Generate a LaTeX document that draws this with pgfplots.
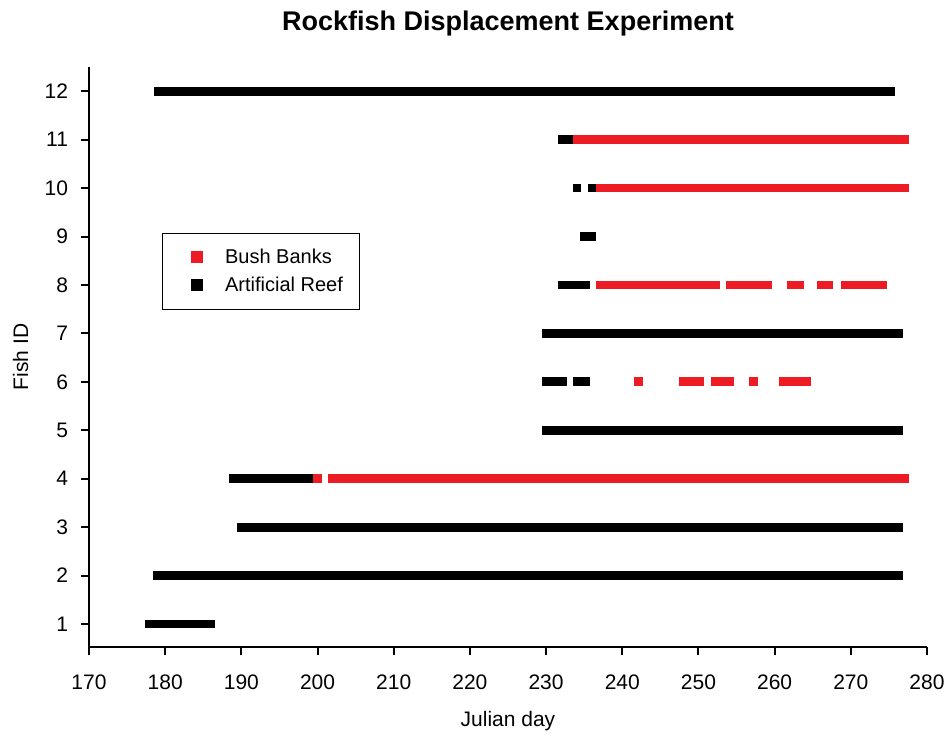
\documentclass[border=0pt]{standalone}
\usepackage{pgfplots}
\pgfplotsset{compat=1.18}
\usepackage{fontspec}
\setmainfont{Liberation Sans}
\definecolor{bbred}{RGB}{237,28,36}
\begin{document}
\begin{tikzpicture}
\begin{axis}[
    scale only axis,
    width=419pt, height=290pt,
    xmin=170, xmax=280, ymin=0.525, ymax=12.5,
    xtick={170,180,...,280}, ytick={1,...,12},
    axis lines=left, axis line style={line width=1pt, -},
    tick style={line width=1pt, black},
    tick align=outside, major tick length=4pt,
    /pgf/number format/assume math mode=true,
    /pgf/number format/set thousands separator={},
    tick label style={font=\fontsize{10.5}{12}\selectfont, inner xsep=0pt},
    xticklabel style={yshift=-6.5pt},
    yticklabel style={xshift=-6.3pt},
    xlabel={Julian day}, ylabel={Fish ID},
    label style={font=\fontsize{10.5}{12}\selectfont},
    xlabel style={yshift=-4pt},
    ylabel style={yshift=7pt, inner sep=1pt},
    title={\bfseries Rockfish Displacement Experiment},
    title style={font=\fontsize{13.5}{15}\selectfont, yshift=8pt, inner sep=1pt},
    legend style={at={(0.087,0.714)}, anchor=north west, draw=black, line width=0.6pt,
        font=\fontsize{10}{12}\selectfont, inner xsep=6.5pt, inner ysep=5pt,
        nodes={inner ysep=2pt, text height=8pt, text depth=2pt}},
    legend cell align=left,
    legend image code/.code={
        \path[draw=none] (0pt,0pt) -- (20pt,0pt);
        \fill[draw=none] (7.5pt,-3pt) rectangle (13.5pt,3pt);
    },
    every axis plot/.append style={line width=4.4pt, line cap=butt},
]
\addlegendimage{bbred}
\addlegendentry{\ Bush Banks}
\addlegendimage{black}
\addlegendentry{\ Artificial Reef}
% fish 12
\addplot[black] coordinates {(178.5,12) (275.8,12)};
% fish 11
\addplot[black] coordinates {(231.5,11) (233.5,11)};
\addplot[bbred] coordinates {(233.5,11) (277.7,11)};
% fish 10
\addplot[black] coordinates {(233.5,10) (234.6,10)};
\addplot[black] coordinates {(235.5,10) (236.6,10)};
\addplot[bbred] coordinates {(236.6,10) (277.7,10)};
% fish 9
\addplot[black] coordinates {(234.5,9) (236.6,9)};
% fish 8
\addplot[black] coordinates {(231.5,8) (235.7,8)};
\addplot[bbred] coordinates {(236.6,8) (252.8,8)};
\addplot[bbred] coordinates {(253.6,8) (259.7,8)};
\addplot[bbred] coordinates {(261.6,8) (263.8,8)};
\addplot[bbred] coordinates {(265.6,8) (267.7,8)};
\addplot[bbred] coordinates {(268.7,8) (274.8,8)};
% fish 7
\addplot[black] coordinates {(229.5,7) (276.8,7)};
% fish 6
\addplot[black] coordinates {(229.5,6) (232.7,6)};
\addplot[black] coordinates {(233.5,6) (235.7,6)};
\addplot[bbred] coordinates {(241.5,6) (242.7,6)};
\addplot[bbred] coordinates {(247.5,6) (250.7,6)};
\addplot[bbred] coordinates {(251.6,6) (254.7,6)};
\addplot[bbred] coordinates {(256.6,6) (257.8,6)};
\addplot[bbred] coordinates {(260.6,6) (264.8,6)};
% fish 5
\addplot[black] coordinates {(229.5,5) (276.8,5)};
% fish 4
\addplot[black] coordinates {(188.4,4) (199.4,4)};
\addplot[bbred] coordinates {(199.4,4) (200.6,4)};
\addplot[bbred] coordinates {(201.4,4) (277.7,4)};
% fish 3
\addplot[black] coordinates {(189.4,3) (276.8,3)};
% fish 2
\addplot[black] coordinates {(178.4,2) (276.8,2)};
% fish 1
\addplot[black] coordinates {(177.4,1) (186.5,1)};
\end{axis}
\path (current axis.south west) ++(-44.5pt,-41pt) rectangle ++(474pt,364.5pt);
\end{tikzpicture}
\end{document}
